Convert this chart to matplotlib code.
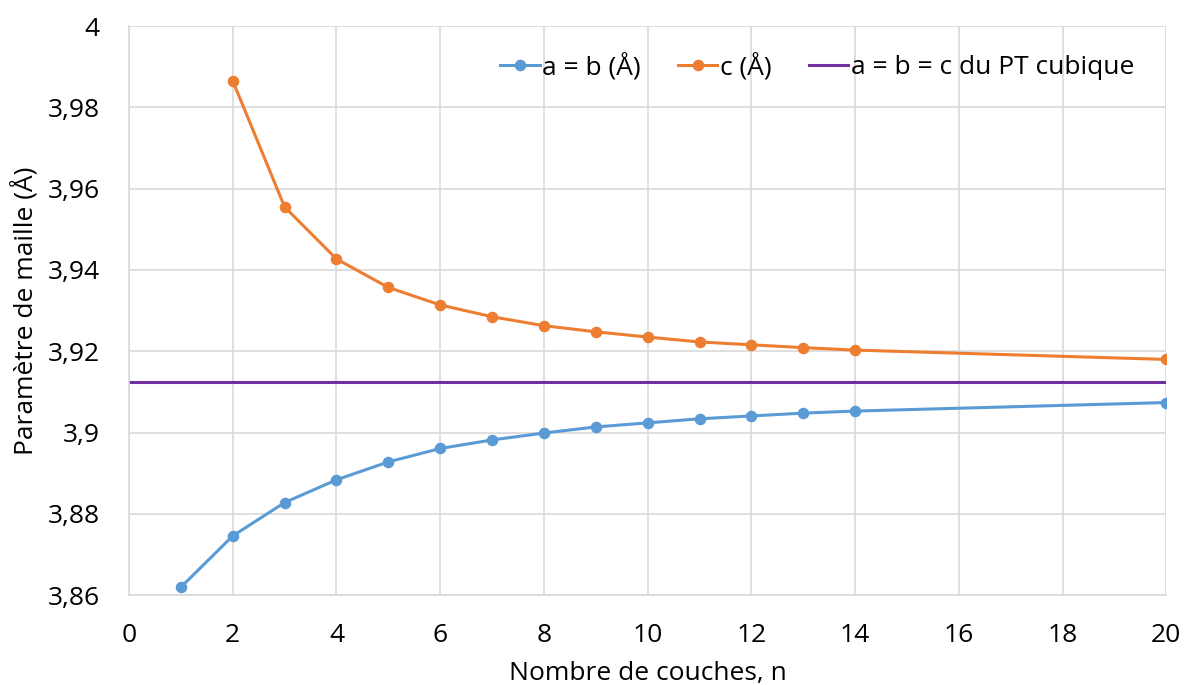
import matplotlib
matplotlib.use("Agg")
import matplotlib.pyplot as plt
from matplotlib.ticker import FuncFormatter, MultipleLocator

# data
n_ab = [1, 2, 3, 4, 5, 6, 7, 8, 9, 10, 11, 12, 13, 14, 20]
ab = [3.8620, 3.8746, 3.8828, 3.8884, 3.8928, 3.8961, 3.8982, 3.8999, 3.9014,
      3.9024, 3.9034, 3.9041, 3.9048, 3.9053, 3.9074]
n_c = [2, 3, 4, 5, 6, 7, 8, 9, 10, 11, 12, 13, 14, 20]
c = [3.9865, 3.9555, 3.9427, 3.9357, 3.9314, 3.9285, 3.9263, 3.9248, 3.9235,
     3.9223, 3.9216, 3.9209, 3.9203, 3.9180]
cubic = 3.9124

plt.rcParams['font.family'] = ['Open Sans', 'DejaVu Sans']

fig = plt.figure(figsize=(11.84, 6.85), dpi=100)
ax = fig.add_axes([0.109, 0.131, 0.876, 0.831])

ax.plot(n_ab, ab, color='#5b9bd5', lw=2.2, marker='o', ms=7.3, label='a = b (Å)', zorder=3)
ax.plot(n_c, c, color='#ed7d31', lw=2.2, marker='o', ms=7.3, label='c (Å)', zorder=3)
ax.axhline(cubic, color='#7030a0', lw=2.2, label='a = b = c du PT cubique', zorder=2)

ax.set_xlim(0, 20)
ax.set_ylim(3.86, 4.0)
ax.xaxis.set_major_locator(MultipleLocator(2))
ax.yaxis.set_major_locator(MultipleLocator(0.02))
ax.yaxis.set_major_formatter(FuncFormatter(lambda v, p: ('%g' % round(v, 4)).replace('.', ',')))

ax.grid(True, color='#d9d9d9', lw=1.2)
ax.set_axisbelow(True)
for s in ['top', 'right']:
    ax.spines[s].set_visible(False)
for s in ['left', 'bottom']:
    ax.spines[s].set_color('#d9d9d9')
    ax.spines[s].set_linewidth(1.2)
ax.tick_params(length=0, labelsize=19, colors='black')
ax.tick_params(axis='y', pad=21)
ax.tick_params(axis='x', pad=20)

ax.set_xlabel('Nombre de couches, n', fontsize=19, labelpad=9)
ax.set_ylabel('Paramètre de maille (Å)', fontsize=19, labelpad=7)

ax.legend(loc='upper right', ncol=3, frameon=False, fontsize=19,
          bbox_to_anchor=(0.992, 0.995), handlelength=1.5, columnspacing=1.4,
          handletextpad=0.1)

fig.savefig('out.png', dpi=100)
